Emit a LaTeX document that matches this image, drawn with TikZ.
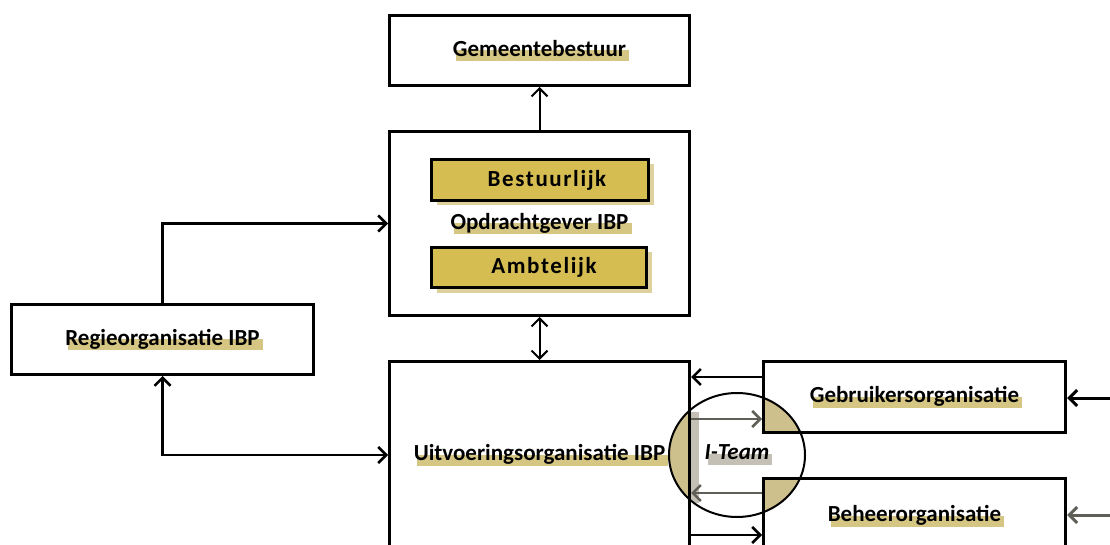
\documentclass[tikz,border=0pt]{standalone}
\usepackage{fontspec}
\setmainfont{Carlito}
\usepackage{tikz}
\usetikzlibrary{arrows.meta,shapes.geometric,shadows,backgrounds}
\definecolor{cGoud}{RGB}{214,189,82}
\definecolor{cGloed}{RGB}{214,198,132}
\definecolor{cTaan}{RGB}{206,192,140}
\definecolor{cBand}{RGB}{196,192,182}
\definecolor{cGrijs}{RGB}{95,95,88}
\newlength\gloedbreed
\newcommand{\gloed}[2][cGloed]{\settowidth{\gloedbreed}{#2}%
  \makebox[0pt][l]{\kern3pt\textcolor{#1}{\rule[-5pt]{\gloedbreed}{11pt}}}#2}

\begin{document}
\begin{tikzpicture}[x=1pt,y=-1pt,font=\fontsize{23}{27}\selectfont\bfseries,
  box/.style={draw,line width=3pt,inner sep=0pt,minimum width=300pt},
  goud/.style={draw,line width=3pt,fill=cGoud,inner sep=0pt,
    font=\fontsize{23}{27}\selectfont\bfseries\addfontfeatures{LetterSpace=7},
    drop shadow={fill=cGloed,opacity=0.8,shadow xshift=5pt,shadow yshift=-5pt}},
  lijn/.style={line width=2.5pt},
  pijl/.style={lijn,-{Straight Barb[length=8pt,width=16pt]}},
  tweepijl/.style={lijn,{Straight Barb[length=8pt,width=16pt]}-{Straight Barb[length=8pt,width=16pt]}}]
\useasboundingbox (0,0) rectangle (1110,545);
\clip (0,0) rectangle (1110,545);
\node[box,minimum height=70pt] (gemeente) at (539.5,50.5) {\gloed{Gemeentebestuur}};
\node[box,minimum height=184pt] (opdracht) at (539.5,223.5) {\gloed{Opdrachtgever IBP}};
\node[goud,minimum width=217pt,minimum height=41pt] (bestuurlijk) at (540,180) {\hspace{14pt}Bestuurlijk};
\node[goud,minimum width=215pt,minimum height=40pt] (ambtelijk) at (539,267.5) {\hspace{10pt}Ambtelijk};
\node[box,minimum width=302pt,minimum height=70pt] (regie) at (162.5,339.5) {\gloed{Regieorganisatie IBP}};
\node[box,minimum height=187pt] (uitvoering) at (539.5,455) {\gloed{Uitvoeringsorganisatie IBP}};
\node[box,minimum width=302pt,minimum height=71pt] (gebruikers) at (914.5,397) {\gloed{Gebruikersorganisatie}};
\node[box,minimum width=302pt,minimum height=75pt] (beheer) at (914.5,516) {\gloed{Beheerorganisatie}};
\node[draw,ellipse,line width=2pt,minimum width=136pt,minimum height=124pt,
  font=\fontsize{23}{27}\selectfont\bfseries\itshape] (iteam) at (737,455) {\gloed[cBand]{I-Team}};
\coordinate (inGebr) at (1112,398);
\coordinate (inBeh) at (1112,515);
\begin{scope}[on background layer]
  \clip (iteam.center) ellipse [x radius=68, y radius=62];
  \fill[cTaan] (uitvoering.north west) rectangle (uitvoering.south east);
  \fill[cTaan] (gebruikers.north west) rectangle (gebruikers.south east);
  \fill[cTaan] (beheer.north west) rectangle (beheer.south east);
  \fill[cBand] (uitvoering.east |- 0,412) rectangle (699,503);
\end{scope}
\draw[pijl,line width=2pt] (opdracht) -- (gemeente);
\draw[tweepijl,line width=2pt] (opdracht) -- (uitvoering);
\draw[pijl] (regie.north) |- (opdracht.west);
\draw[tweepijl] (regie.south) |- (uitvoering.west);
\draw[pijl] ([yshift=20pt]gebruikers.west) coordinate (g1) -- (g1 -| uitvoering.east);
\draw[pijl,cGrijs] (uitvoering.east |- g1) ++(0,42) coordinate (g2) -- (g2 -| gebruikers.west);
\draw[pijl,cGrijs] ([yshift=23pt]beheer.west) coordinate (b1) -- (b1 -| uitvoering.east);
\draw[pijl] (uitvoering.east |- b1) ++(0,42) coordinate (b2) -- (b2 -| beheer.west);
\draw[pijl,line width=3pt] (inGebr) -- (gebruikers.east |- inGebr);
\draw[pijl,line width=3pt,cGrijs] (inBeh) -- (beheer.east |- inBeh);
\end{tikzpicture}
\end{document}
